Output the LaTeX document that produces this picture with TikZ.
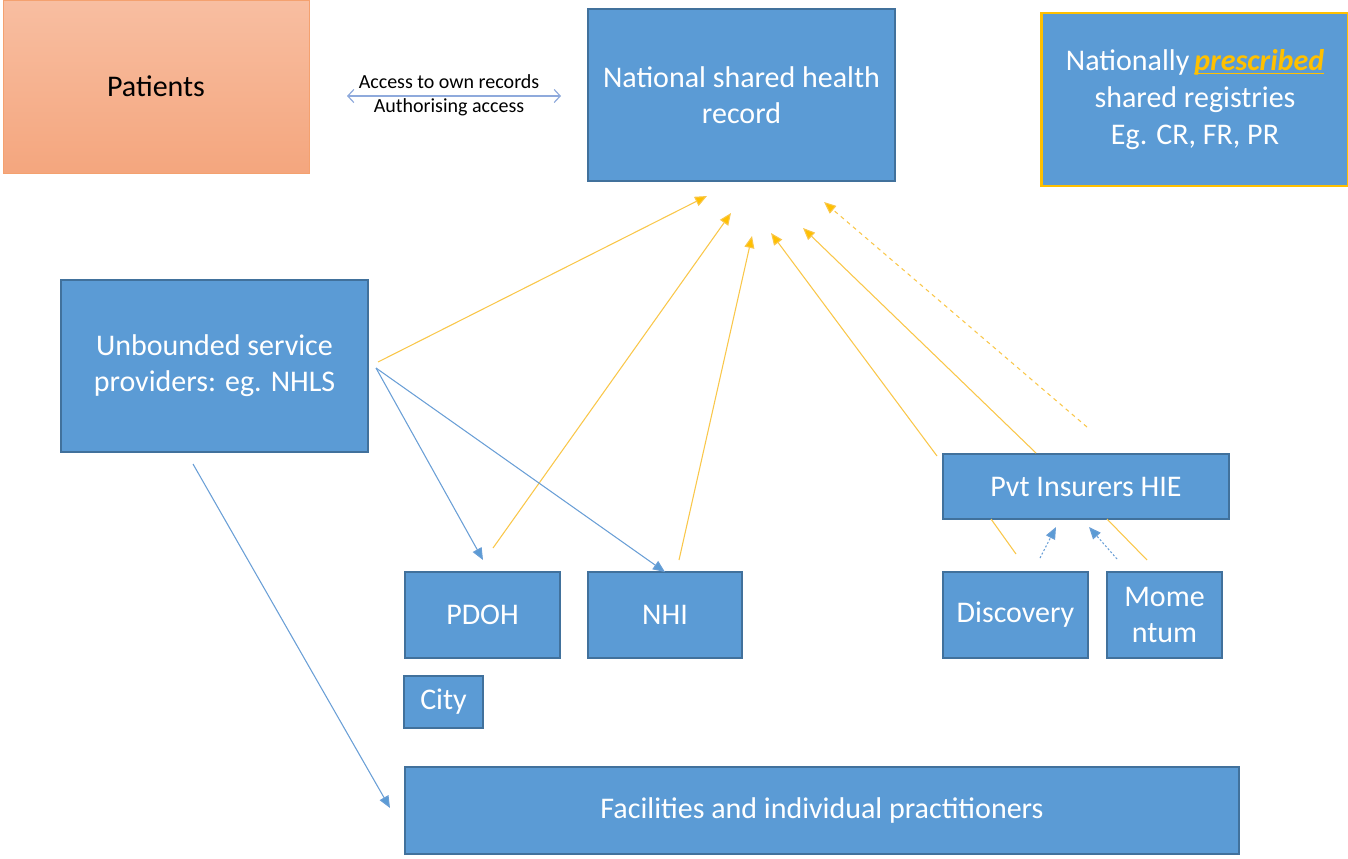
\documentclass[tikz,border=0pt]{standalone}
\usepackage{fontspec}
\setmainfont{Carlito}
\usetikzlibrary{arrows.meta}
\newdimen\pxu \pxu=0.75pt
\newcommand\goldul[1]{\setbox0\hbox{#1}\rlap{\rule[-3pt]{\wd0}{1.4pt}}\box0}
\definecolor{boxblue}{HTML}{5B9BD5}
\definecolor{boxedge}{HTML}{41719C}
\definecolor{gold}{HTML}{FFC000}
\definecolor{goldln}{HTML}{F9C74A}
\definecolor{lineblue}{HTML}{6A9FD6}
\definecolor{grayblue}{HTML}{8FAADC}
\definecolor{patedge}{HTML}{F4A16F}
\tikzset{
  box/.style={draw=boxedge, line width=1.5\pxu, fill=boxblue, text=white, align=center,
    font=\fontsize{22.5}{27}\selectfont, inner sep=0pt},
  goldarrow/.style={draw=goldln, line width=0.8pt, -{Triangle[length=9pt,width=7.5pt,fill=gold]}},
  goldline/.style={draw=goldln, line width=0.8pt},
  bluearrow/.style={draw=lineblue, line width=0.8pt, -{Triangle[length=9pt,width=7.5pt,fill=boxblue]}},
  lbl/.style={font=\fontsize{15}{18}\selectfont, inner sep=0pt}
}
\begin{document}
\begin{tikzpicture}[x=0.75pt,y=-0.75pt]
\useasboundingbox (0,0) rectangle (1348,858);
% Patients
\node[draw=patedge, line width=1\pxu, top color={rgb,255:red,248;green,190;blue,161}, bottom color={rgb,255:red,244;green,166;blue,126},
  minimum width=306\pxu, minimum height=173\pxu, inner sep=0pt, font=\fontsize{22.5}{27}\selectfont] (pat) at (156,86.5) {Patients};
% main boxes
\node[box, minimum width=307\pxu, minimum height=172\pxu] (nshr) at (741.5,95) {National shared health\\record};
\node[box, draw=gold, line width=2.2\pxu, minimum width=307\pxu, minimum height=173\pxu, font=\fontsize{22.5}{27.75}\selectfont] (reg) at (1195,99.5)
  {Nationally\,\textcolor{gold}{\goldul{\bfseries\itshape prescribed}}\\shared registries\\Eg. CR, FR, PR};
\node[box, minimum width=307\pxu, minimum height=172\pxu] (ubs) at (214.5,366) {Unbounded service\\providers: eg. NHLS};
\node[box, minimum width=286\pxu, minimum height=65\pxu] (pvt) at (1086,486.5) {Pvt Insurers HIE};
\node[box, minimum width=155\pxu, minimum height=86\pxu] (pdoh) at (482.5,615) {PDOH};
\node[box, minimum width=154\pxu, minimum height=86\pxu] (nhi) at (665,615) {NHI};
\node[box, minimum width=145\pxu, minimum height=86\pxu] (disc) at (1015.5,615) {Discovery};
\node[box, minimum width=115\pxu, minimum height=86\pxu] (mom) at (1164.5,615) {Mome\\ntum};
\node[box, minimum width=79\pxu, minimum height=52\pxu] (city) at (443.5,702) {City};
\node[box, minimum width=834\pxu, minimum height=87\pxu] (fac) at (822,810.5) {Facilities and individual practitioners};
% coordinates
\coordinate (pa) at (347,96);
\coordinate (pb) at (561,96);
\coordinate (u0) at (378,362);
\coordinate (u1) at (376,368);
\coordinate (u2) at (193,464);
\coordinate (g1) at (707,196);
\coordinate (s2) at (493,548);
\coordinate (g2) at (731,213);
\coordinate (s3) at (679,560);
\coordinate (g3) at (752,236);
\coordinate (s4) at (937,456);
\coordinate (g4) at (771,233);
\coordinate (s5) at (1036,453);
\coordinate (g5) at (803,228);
\coordinate (s6) at (1087,427);
\coordinate (g6) at (824,202);
\coordinate (b1) at (483,560);
\coordinate (b2) at (665,572);
\coordinate (b3) at (390,808);
\coordinate (d1) at (1040,558);
\coordinate (d2) at (1056,527);
\coordinate (m1) at (1117,559);
\coordinate (m2) at (1089,527);
\coordinate (l1a) at (1016,554);
\coordinate (l1b) at (991,519);
\coordinate (l2a) at (1147,560);
\coordinate (l2b) at (1107,519);
% double arrow with labels
\draw[draw=grayblue, line width=0.9pt, {Straight Barb[length=4.5pt,width=9.75pt]}-{Straight Barb[length=4.5pt,width=9.75pt]}] (pa) -- (pb);
\node[lbl, anchor=base] (lab1) at (449,88) {Access to own records};
\node[lbl, anchor=base] (lab2) at (449,112) {Authorising access};
% gold arrows
\draw[goldarrow] (u0) -- (g1);
\draw[goldarrow] (s2) -- (g2);
\draw[goldarrow] (s3) -- (g3);
\draw[goldarrow] (s4) -- (g4);
\draw[goldarrow] (s5) -- (g5);
\draw[goldarrow, dash pattern=on 3pt off 3pt] (s6) -- (g6);
\draw[goldline] (l1a) -- (l1b);
\draw[goldline] (l2a) -- (l2b);
% blue arrows
\draw[bluearrow] (u1) -- (b1);
\draw[bluearrow] (u1) -- (b2);
\draw[bluearrow] (u2) -- (b3);
\draw[bluearrow, dash pattern=on 1.5pt off 1.5pt] (d1) -- (d2);
\draw[bluearrow, dash pattern=on 1.5pt off 1.5pt] (m1) -- (m2);
\end{tikzpicture}
\end{document}
